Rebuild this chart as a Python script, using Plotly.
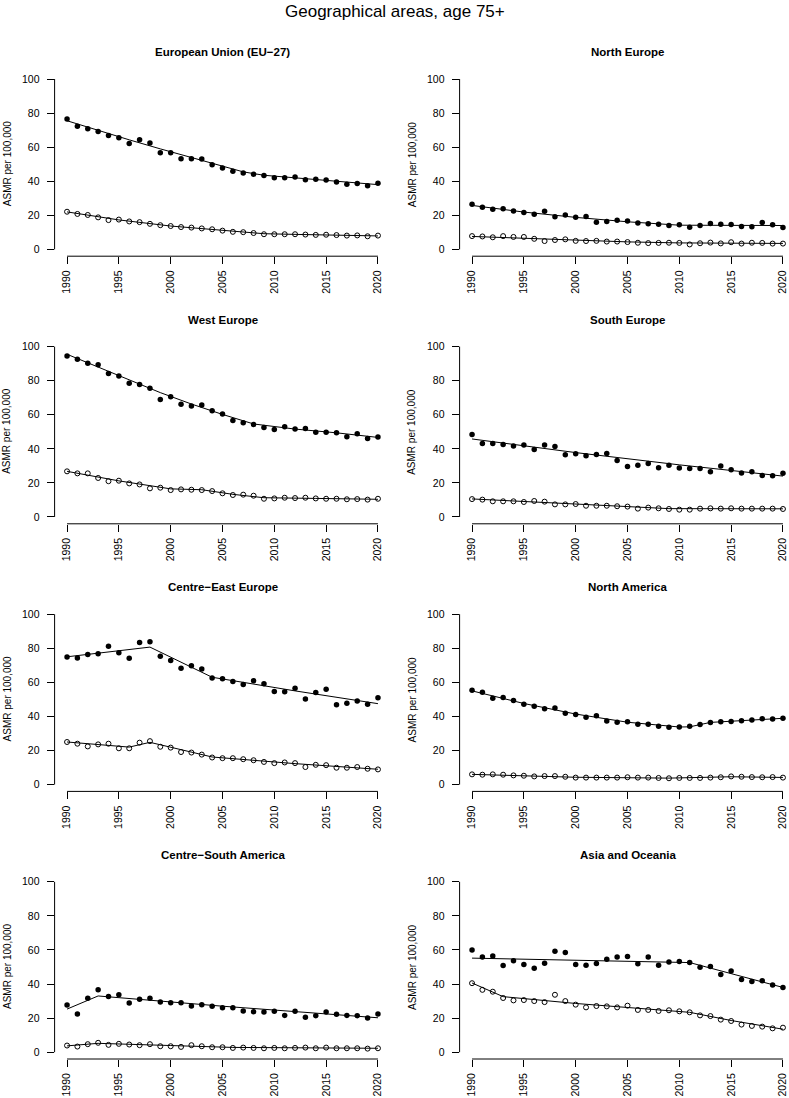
import plotly.graph_objects as go

# ---------------- data ----------------
years = list(range(1990, 2021))
x_tick_vals = [1990, 1995, 2000, 2005, 2010, 2015, 2020]
y_tick_vals = [0, 20, 40, 60, 80, 100]

main_title = "Geographical areas, age 75+"
y_title = "ASMR per 100,000"
region_names = ["European Union (EU\u221227)", "North Europe", "West Europe", "South Europe",
                "Centre\u2212East Europe", "North America", "Centre\u2212South America", "Asia and Oceania"]

# filled circles (men) and open circles (women), 1990-2020
men_eu27 = [76.5, 72.3, 70.8, 69.2, 66.9, 65.5, 62.2, 64.3, 62.4, 56.7, 56.7, 53.2, 53.2, 53.0, 49.7, 47.8,
            45.8, 44.8, 44.1, 43.3, 42.1, 42.1, 42.5, 40.9, 41.1, 40.7, 39.5, 38.3, 38.7, 37.4, 38.8]
women_eu27 = [22.1, 20.8, 20.2, 18.8, 17.2, 17.5, 16.4, 16.0, 15.0, 14.2, 13.7, 13.1, 12.8, 12.3, 11.8, 11.0,
              10.3, 10.1, 9.6, 8.9, 8.9, 8.9, 8.9, 8.7, 8.5, 8.6, 8.4, 8.1, 8.2, 7.7, 8.1]

men_north_eu = [26.5, 24.7, 23.5, 23.8, 22.5, 21.6, 20.6, 22.4, 19.2, 20.2, 18.8, 19.3, 16.0, 16.3, 17.1, 16.6,
                15.5, 15.0, 14.7, 14.0, 14.4, 13.0, 14.0, 15.2, 14.7, 14.6, 13.4, 13.3, 15.8, 14.5, 12.9]
women_north_eu = [7.8, 7.6, 7.1, 7.8, 7.3, 7.3, 6.2, 4.9, 5.5, 5.9, 5.0, 4.9, 5.0, 4.6, 4.6, 4.3,
                  3.9, 3.7, 3.8, 3.9, 3.8, 2.9, 3.6, 4.0, 3.5, 4.2, 3.4, 3.9, 3.8, 3.4, 3.4]

men_west_eu = [94.5, 92.6, 90.2, 89.3, 84.2, 82.8, 78.5, 77.7, 75.6, 68.9, 70.5, 66.2, 65.2, 65.8, 62.3, 60.4,
               56.6, 55.3, 54.3, 52.5, 51.4, 52.9, 51.6, 52.0, 49.8, 49.8, 49.4, 47.1, 48.8, 46.1, 46.9]
women_west_eu = [26.8, 25.6, 25.6, 22.9, 21.0, 21.3, 19.7, 19.1, 16.8, 17.2, 15.8, 16.2, 16.0, 15.8, 15.2, 13.9,
                 12.9, 13.1, 12.5, 10.7, 10.9, 11.3, 11.1, 11.3, 10.9, 10.7, 10.7, 10.4, 10.5, 10.2, 10.7]

men_south_eu = [48.4, 43.2, 43.2, 42.6, 41.6, 42.2, 39.6, 42.2, 41.4, 36.5, 37.1, 35.9, 36.7, 37.3, 33.2, 29.7,
                30.3, 31.4, 28.9, 30.3, 28.7, 28.5, 28.5, 26.6, 29.9, 27.7, 25.8, 26.6, 24.4, 24.2, 25.6]
women_south_eu = [10.5, 10.2, 9.2, 9.2, 9.2, 8.8, 9.4, 9.0, 7.4, 7.4, 7.6, 6.6, 6.6, 6.6, 6.3, 6.1,
                  4.9, 5.5, 5.1, 4.7, 4.3, 4.3, 4.9, 5.1, 4.9, 5.1, 4.9, 4.9, 4.9, 4.9, 4.7]

men_ce_eu = [74.9, 74.3, 76.4, 76.8, 81.2, 77.4, 74.1, 83.4, 83.8, 75.4, 72.9, 68.3, 69.8, 67.9, 62.5, 62.1,
             60.5, 58.8, 60.9, 59.2, 54.7, 54.5, 56.5, 50.3, 54.0, 55.9, 46.8, 47.8, 49.1, 47.2, 50.9]
women_ce_eu = [25.0, 24.0, 22.4, 23.6, 24.0, 21.3, 21.3, 24.6, 25.5, 22.2, 21.7, 19.1, 18.8, 17.6, 15.9, 15.5,
               15.5, 14.9, 14.3, 13.3, 12.6, 13.0, 12.6, 10.3, 11.6, 11.4, 9.9, 9.9, 10.3, 9.3, 8.9]

men_north_am = [55.3, 54.2, 50.7, 51.1, 49.3, 47.2, 46.0, 44.5, 44.9, 41.8, 41.2, 39.5, 40.4, 37.3, 36.6, 36.9,
                35.4, 35.4, 34.2, 33.7, 33.8, 34.2, 35.2, 36.4, 36.9, 37.1, 37.5, 37.9, 38.7, 38.5, 38.9]
women_north_am = [6.0, 5.8, 6.0, 5.8, 5.4, 5.2, 4.8, 5.0, 5.0, 4.6, 4.1, 4.1, 4.1, 4.1, 4.1, 4.3,
                  4.1, 4.1, 3.9, 3.7, 3.9, 3.9, 3.9, 4.1, 4.3, 4.8, 4.6, 4.4, 4.3, 4.4, 4.1]

men_cs_am = [27.7, 22.4, 31.6, 36.6, 32.7, 33.7, 28.8, 31.0, 31.6, 29.4, 29.0, 29.0, 27.1, 27.9, 26.9, 26.1,
             26.1, 24.2, 23.8, 23.6, 24.0, 21.6, 24.0, 20.5, 21.4, 23.6, 22.2, 21.6, 21.4, 20.1, 22.4]
women_cs_am = [3.9, 3.3, 4.7, 5.5, 4.3, 4.9, 4.5, 4.1, 4.7, 3.5, 3.5, 3.1, 4.1, 3.5, 2.9, 2.9,
               2.5, 2.7, 2.5, 2.3, 2.5, 2.3, 2.5, 2.7, 2.3, 2.7, 2.3, 2.3, 2.3, 2.1, 2.3]

men_asia_oc = [60.0, 55.8, 56.5, 50.9, 53.6, 51.5, 49.3, 52.2, 59.3, 58.5, 51.5, 51.1, 52.0, 54.6, 55.8, 56.1,
               51.9, 55.8, 51.1, 53.0, 53.2, 52.6, 49.9, 50.3, 45.6, 47.6, 42.7, 41.5, 41.9, 39.4, 38.0]
women_asia_oc = [40.5, 36.6, 35.5, 31.8, 30.4, 30.6, 30.0, 29.4, 33.7, 30.0, 27.9, 26.3, 27.1, 26.9, 26.3, 27.3,
                 24.8, 24.8, 24.2, 24.6, 24.0, 23.4, 21.6, 21.2, 19.1, 18.3, 16.2, 15.4, 15.0, 14.0, 14.4]

# fitted (joinpoint) trend lines: node years and values
fit_men_eu27_x = [1990, 1993, 1996, 1999, 2002, 2005, 2007, 2009, 2012, 2015, 2018, 2020]
fit_men_eu27_y = [75.5, 69.8, 64.3, 59.0, 53.9, 48.5, 45.5, 43.5, 42.0, 40.6, 39.1, 38.0]
fit_women_eu27_x = [1990, 1995, 2000, 2005, 2009, 2012, 2020]
fit_women_eu27_y = [22.0, 17.3, 13.7, 11.0, 9.2, 8.8, 7.9]

fit_men_north_eu_x = [1990, 1995, 2000, 2005, 2010, 2020]
fit_men_north_eu_y = [25.8, 21.9, 18.8, 16.2, 14.2, 14.0]
fit_women_north_eu_x = [1990, 1995, 2000, 2005, 2010, 2020]
fit_women_north_eu_y = [7.6, 6.6, 5.3, 4.4, 3.8, 3.5]

fit_men_west_eu_x = [1990, 1993, 1996, 1999, 2002, 2005, 2008, 2012, 2016, 2020]
fit_men_west_eu_y = [95.5, 88.0, 80.5, 73.0, 66.3, 60.2, 54.6, 51.6, 49.4, 46.7]
fit_women_west_eu_x = [1990, 1995, 2000, 2003, 2006, 2009, 2014, 2020]
fit_women_west_eu_y = [26.8, 21.2, 16.5, 16.0, 13.3, 11.3, 10.9, 10.4]

fit_men_south_eu_x = [1990, 2000, 2010, 2020]
fit_men_south_eu_y = [45.8, 37.8, 30.6, 24.0]
fit_women_south_eu_x = [1990, 1995, 2000, 2005, 2009, 2020]
fit_women_south_eu_y = [10.6, 9.0, 7.6, 6.0, 4.9, 4.8]

fit_men_ce_eu_x = [1990, 1998, 2004, 2012, 2020]
fit_men_ce_eu_y = [75.0, 80.7, 63.0, 55.0, 47.5]
fit_women_ce_eu_x = [1990, 1996, 1998, 2004, 2012, 2020]
fit_women_ce_eu_y = [25.0, 22.0, 24.8, 16.2, 12.3, 9.0]

fit_men_north_am_x = [1990, 1995, 2000, 2005, 2010, 2011, 2013, 2020]
fit_men_north_am_y = [55.0, 47.6, 41.4, 36.6, 33.8, 33.9, 36.5, 38.9]
fit_women_north_am_x = [1990, 1995, 2000, 2009, 2015, 2020]
fit_women_north_am_y = [6.0, 5.1, 4.3, 3.8, 4.6, 4.2]

fit_men_cs_am_x = [1990, 1993, 2005, 2020]
fit_men_cs_am_y = [25.3, 33.0, 27.0, 20.2]
fit_women_cs_am_x = [1990, 1993, 2000, 2006, 2020]
fit_women_cs_am_y = [3.7, 5.2, 3.9, 2.8, 2.3]

fit_men_asia_oc_x = [1990, 2011, 2020]
fit_men_asia_oc_y = [55.2, 52.6, 38.0]
fit_women_asia_oc_x = [1990, 1993, 2000, 2011, 2015, 2020]
fit_women_asia_oc_y = [40.6, 32.6, 28.6, 23.4, 18.6, 13.5]

men_series = [men_eu27, men_north_eu, men_west_eu, men_south_eu, men_ce_eu, men_north_am, men_cs_am, men_asia_oc]
women_series = [women_eu27, women_north_eu, women_west_eu, women_south_eu, women_ce_eu, women_north_am,
                women_cs_am, women_asia_oc]
men_fits = [(fit_men_eu27_x, fit_men_eu27_y), (fit_men_north_eu_x, fit_men_north_eu_y),
            (fit_men_west_eu_x, fit_men_west_eu_y), (fit_men_south_eu_x, fit_men_south_eu_y),
            (fit_men_ce_eu_x, fit_men_ce_eu_y), (fit_men_north_am_x, fit_men_north_am_y),
            (fit_men_cs_am_x, fit_men_cs_am_y), (fit_men_asia_oc_x, fit_men_asia_oc_y)]
women_fits = [(fit_women_eu27_x, fit_women_eu27_y), (fit_women_north_eu_x, fit_women_north_eu_y),
              (fit_women_west_eu_x, fit_women_west_eu_y), (fit_women_south_eu_x, fit_women_south_eu_y),
              (fit_women_ce_eu_x, fit_women_ce_eu_y), (fit_women_north_am_x, fit_women_north_am_y),
              (fit_women_cs_am_x, fit_women_cs_am_y), (fit_women_asia_oc_x, fit_women_asia_oc_y)]

# ---------------- layout geometry (pixels) ----------------
W, H = 789, 1098
FONT = "Liberation Sans, Arial, Helvetica, sans-serif"
px_per_year = 335.8 / 32.4
col_left_px = [54.6, 459.6]
row_top_px = [72.2, 339.8, 607.4, 875.0]
plot_h_px = 184.0
x_min = 1988.8

fig = go.Figure()
layout = dict(
    width=W, height=H, margin=dict(l=0, r=0, t=0, b=0),
    paper_bgcolor="white", plot_bgcolor="white", showlegend=False,
    font=dict(family=FONT, color="black", size=10),
)
shapes = []
annotations = []

for i in range(8):
    r, c = divmod(i, 2)
    n = i + 1
    xs = "" if n == 1 else str(n)
    left = col_left_px[c]
    right = min(left + 32.4 * px_per_year, W)
    x_max = x_min + (right - left) / px_per_year
    top = row_top_px[r]
    bottom = top + plot_h_px

    layout["xaxis" + xs] = dict(
        domain=[left / W, right / W], range=[x_min, x_max], anchor="y" + xs,
        tickmode="array", tickvals=x_tick_vals, ticktext=[str(v) for v in x_tick_vals],
        ticks="outside", ticklen=7, tickwidth=1, tickcolor="black", tickangle=-90,
        tickfont=dict(family=FONT, size=10.5, color="black"), ticklabelstandoff=2,
        showgrid=False, zeroline=False, showline=False, fixedrange=True,
    )
    layout["yaxis" + xs] = dict(
        domain=[1 - bottom / H, 1 - top / H], range=[-4, 104], anchor="x" + xs,
        tickmode="array", tickvals=y_tick_vals, ticktext=[str(v) for v in y_tick_vals],
        ticks="outside", ticklen=7, tickwidth=1, tickcolor="black",
        tickfont=dict(family=FONT, size=10.5, color="black"), ticklabelstandoff=5,
        showgrid=False, zeroline=False, showline=False, fixedrange=True,
    )
    # R-style axis lines (only between first and last tick)
    shapes.append(dict(type="line", xref="x" + xs, yref="y" + xs + " domain",
                       x0=x_tick_vals[0], x1=x_tick_vals[-1], y0=0, y1=0,
                       line=dict(color="black", width=1)))
    shapes.append(dict(type="line", xref="x" + xs + " domain", yref="y" + xs,
                       x0=0, x1=0, y0=y_tick_vals[0], y1=y_tick_vals[-1],
                       line=dict(color="black", width=1)))

    cx = (left + left + 32.4 * px_per_year) / 2
    annotations.append(dict(text="<b>" + region_names[i] + "</b>", xref="paper", yref="paper",
                            x=cx / W, y=1 - (top - 20) / H, xanchor="center", yanchor="middle",
                            showarrow=False, font=dict(family=FONT, size=11.5, color="black")))
    annotations.append(dict(text=y_title, xref="paper", yref="paper", textangle=-90,
                            x=(left - 47.6) / W, y=1 - (top + plot_h_px / 2) / H,
                            xanchor="center", yanchor="middle", showarrow=False,
                            font=dict(family=FONT, size=10, color="black")))

    # points
    fig.add_trace(go.Scatter(x=years, y=men_series[i], mode="markers", xaxis="x" + xs, yaxis="y" + xs,
                             marker=dict(symbol="circle", size=5.5, color="black", line=dict(width=0)),
                             hoverinfo="x+y"))
    fig.add_trace(go.Scatter(x=years, y=women_series[i], mode="markers", xaxis="x" + xs, yaxis="y" + xs,
                             marker=dict(symbol="circle-open", size=5, color="black", line=dict(width=1)),
                             hoverinfo="x+y"))
    # fitted lines
    for fx, fy in (men_fits[i], women_fits[i]):
        fig.add_trace(go.Scatter(x=fx, y=fy, mode="lines", xaxis="x" + xs, yaxis="y" + xs,
                                 line=dict(color="black", width=1), hoverinfo="skip"))

annotations.append(dict(text=main_title, xref="paper", yref="paper", x=0.5, y=1 - 11 / H,
                        xanchor="center", yanchor="middle", showarrow=False,
                        font=dict(family=FONT, size=17, color="black")))

layout["shapes"] = shapes
layout["annotations"] = annotations
fig.update_layout(**layout)

fig.write_html("out.html", config={"displayModeBar": False},
               post_script="document.body.style.margin='0';")
